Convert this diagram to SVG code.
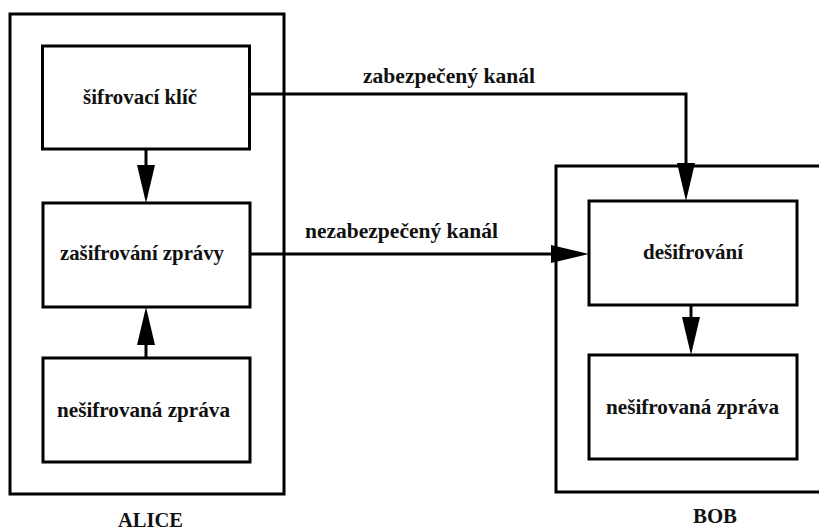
<svg xmlns="http://www.w3.org/2000/svg" width="819" height="532" viewBox="0 0 819 532">
  <style>
    .frame { fill: none; stroke: #000; stroke-width: 3; }
    .box { fill: #fff; stroke: #000; stroke-width: 3; }
    .wire { fill: none; stroke: #000; stroke-width: 3; }
    text { font-family: "Liberation Serif", "DejaVu Serif", serif; font-weight: 700; fill: #111; }
    .lbl { font-size: 22px; }
    .party { font-size: 20px; }
  </style>
  <defs>
    <!-- arrowhead starts where the line ends and points forward -->
    <marker id="head" markerUnits="userSpaceOnUse" markerWidth="40" markerHeight="20" refX="0" refY="9" orient="auto" overflow="visible">
      <path d="M0,0 L38,9 L0,18 Z" fill="#000"/>
    </marker>
  </defs>
  <rect width="819" height="532" fill="#fff"/>

  <!-- Alice -->
  <g id="alice">
    <rect class="frame" x="10" y="14" width="274" height="480"/>
    <text class="party" x="118" y="527" textLength="65" lengthAdjust="spacingAndGlyphs">ALICE</text>
  </g>
  <g id="alice-key">
    <rect class="box" x="42.5" y="46" width="207" height="103"/>
    <text class="lbl" x="83" y="104" textLength="114" lengthAdjust="spacingAndGlyphs">šifrovací klíč</text>
  </g>
  <g id="alice-encrypt">
    <rect class="box" x="43" y="203" width="207" height="104"/>
    <text class="lbl" x="60" y="260" textLength="164" lengthAdjust="spacingAndGlyphs">zašifrování zprávy</text>
  </g>
  <g id="alice-plain">
    <rect class="box" x="43" y="358" width="207" height="104"/>
    <text class="lbl" x="57" y="417" textLength="173" lengthAdjust="spacingAndGlyphs">nešifrovaná zpráva</text>
  </g>

  <!-- Bob -->
  <g id="bob">
    <rect class="frame" x="556" y="166" width="266" height="326"/>
    <text class="party" x="693" y="523" textLength="44" lengthAdjust="spacingAndGlyphs">BOB</text>
  </g>
  <g id="bob-decrypt">
    <rect class="box" x="589" y="201" width="208" height="104"/>
    <text class="lbl" x="643" y="259" textLength="100" lengthAdjust="spacingAndGlyphs">dešifrování</text>
  </g>
  <g id="bob-plain">
    <rect class="box" x="589" y="355" width="208" height="104"/>
    <text class="lbl" x="606" y="414" textLength="173" lengthAdjust="spacingAndGlyphs">nešifrovaná zpráva</text>
  </g>

  <!-- connectors -->
  <g id="connectors">
    <path class="wire" d="M146,149 V165" marker-end="url(#head)"/>
    <path class="wire" d="M146,358 V345" marker-end="url(#head)"/>
    <path class="wire" d="M249,94 H686 V163" marker-end="url(#head)"/>
    <path class="wire" d="M250,254 H551" marker-end="url(#head)"/>
    <path class="wire" d="M691,305 V317" marker-end="url(#head)"/>
    <text class="lbl" x="363" y="83" textLength="172" lengthAdjust="spacingAndGlyphs">zabezpečený kanál</text>
    <text class="lbl" x="305" y="238" textLength="193" lengthAdjust="spacingAndGlyphs">nezabezpečený kanál</text>
  </g>
</svg>
